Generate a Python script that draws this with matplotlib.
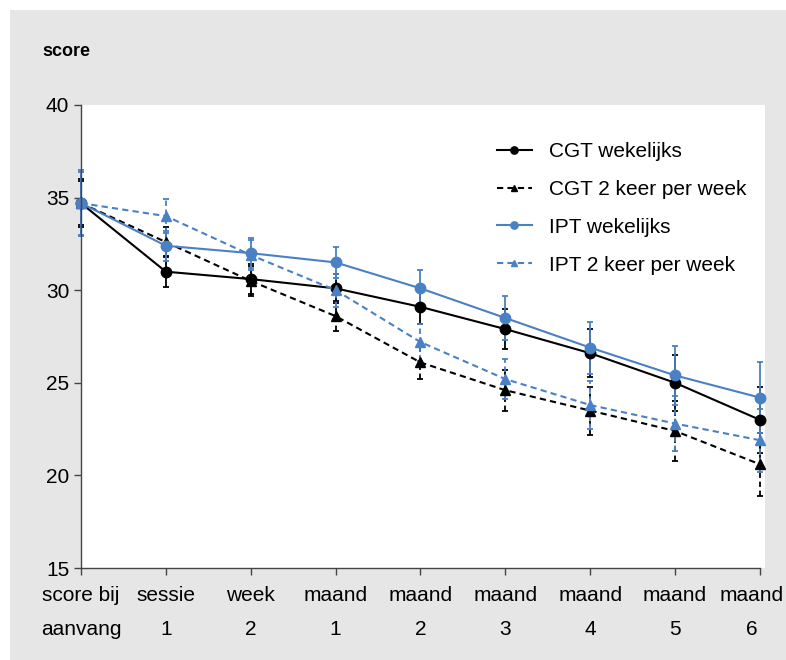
import numpy as np
import matplotlib.pyplot as plt
import matplotlib.transforms as mtransforms
from matplotlib.patches import Rectangle

plt.rcParams['font.family'] = ['Liberation Sans', 'DejaVu Sans']

labels = ['score bij\naanvang', 'sessie\n1', 'week\n2', 'maand\n1', 'maand\n2',
          'maand\n3', 'maand\n4', 'maand\n5', 'maand\n6']

cgt_week = [34.7, 31.0, 30.6, 30.1, 29.1, 27.9, 26.6, 25.0, 23.0]
cgt_week_err = [1.3, 0.85, 0.8, 0.8, 0.9, 1.1, 1.3, 1.5, 1.8]
cgt_2x = [34.7, 32.6, 30.5, 28.6, 26.1, 24.6, 23.5, 22.4, 20.6]
cgt_2x_err = [1.2, 0.8, 0.8, 0.8, 0.9, 1.1, 1.3, 1.6, 1.7]
ipt_week = [34.7, 32.4, 32.0, 31.5, 30.1, 28.5, 26.9, 25.4, 24.2]
ipt_week_err = [1.8, 0.8, 0.8, 0.85, 1.0, 1.2, 1.4, 1.6, 1.9]
ipt_2x = [34.7, 34.0, 31.9, 30.0, 27.2, 25.2, 23.8, 22.8, 21.9]
ipt_2x_err = [1.7, 0.9, 0.8, 0.9, 1.0, 1.1, 1.3, 1.5, 1.7]

blue = '#4a80c4'
x = np.arange(len(labels))

fig = plt.figure(figsize=(7.86, 6.6), dpi=100)
fig.patches.append(Rectangle((10/786, 0), 1, 1 - 10/660, transform=fig.transFigure,
                             facecolor='#e6e6e6', edgecolor='none', zorder=-10))
ax = fig.add_axes([81/786, 92/660, 684/786, 463/660])
ax.set_facecolor('white')

series = [
    (cgt_week, cgt_week_err, 'black', '-', 'o', 'CGT wekelijks'),
    (cgt_2x, cgt_2x_err, 'black', (0, (3, 2)), '^', 'CGT 2 keer per week'),
    (ipt_week, ipt_week_err, blue, '-', 'o', 'IPT wekelijks'),
    (ipt_2x, ipt_2x_err, blue, (0, (3, 2)), '^', 'IPT 2 keer per week'),
]
handles = []
for vals, err, col, ls, mk, lab in series:
    ms = 7.5 if mk == 'o' else 7
    c = ax.errorbar(x, vals, yerr=err, color=col, linestyle=ls, marker=mk, markersize=ms,
                    linewidth=1.5, capsize=2.5, elinewidth=1.3, capthick=1.3, label=lab,
                    clip_on=False)
    if ls != '-':
        for bl in c[2]:
            bl.set_linestyle((0, (3, 2)))
    handles.append(c[0])

ax.set_ylim(15, 40)
ax.set_xlim(0, 8.06)
ax.set_yticks([15, 20, 25, 30, 35, 40])
ax.set_xticks(x)
ax.set_xticklabels(labels, linespacing=2.0)
ax.tick_params(axis='both', labelsize=15, length=5, width=1, color='#444444', direction='out')
ax.tick_params(axis='x', pad=8)
# last label sits a bit left of its tick, as in the original
last = ax.get_xticklabels()[-1]
last.set_transform(last.get_transform() + mtransforms.ScaledTranslation(-8/100, 0, fig.dpi_scale_trans))
for s in ['top', 'right']:
    ax.spines[s].set_visible(False)
ax.spines['bottom'].set_bounds(0, 8)
for s in ['left', 'bottom']:
    ax.spines[s].set_color('#444444')
    ax.spines[s].set_linewidth(1)

leg = ax.legend(handles, [s[5] for s in series], loc='upper right',
                bbox_to_anchor=(1.0, 0.96), frameon=False, fontsize=15,
                handlelength=1.7, handletextpad=0.8, labelspacing=0.9, markerscale=0.7)

fig.text(42/786, 1 - 52/660, 'score', fontsize=13, fontweight='bold', va='center', ha='left')

fig.savefig('out.png', dpi=100, facecolor='white')
